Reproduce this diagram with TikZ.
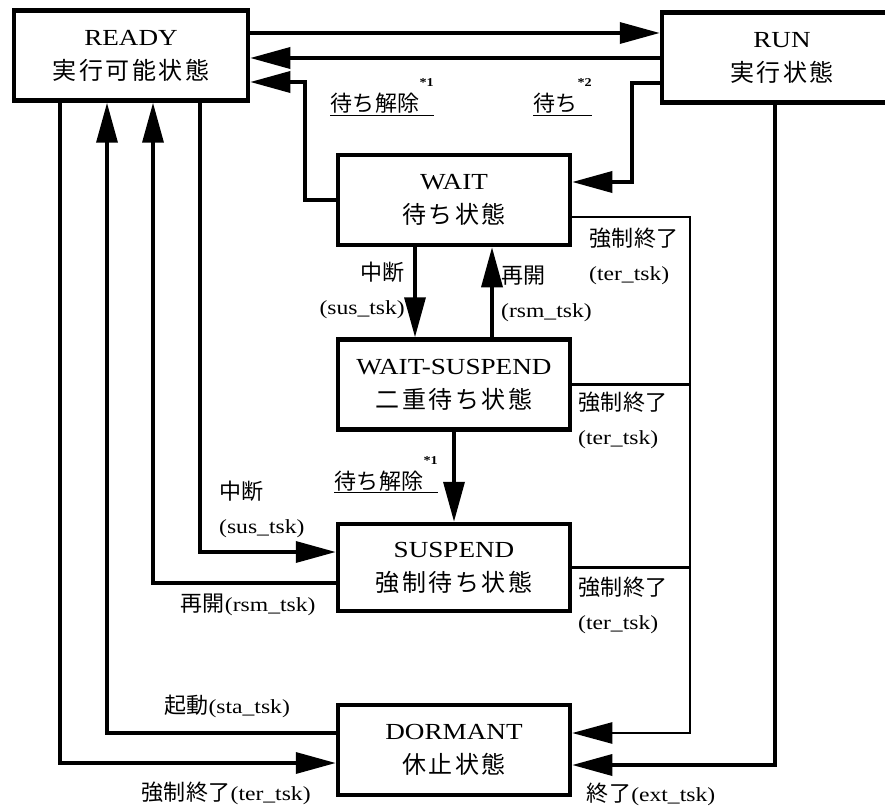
\documentclass[tikz,border=0pt]{standalone}
\usepackage{fontspec}
\setmainfont{Liberation Serif}[FakeStretch=1.18]
\newfontfamily\jpfont{Noto Sans CJK JP}[LetterSpace=2]
\newfontfamily\jpwidefont{Noto Sans CJK JP}[LetterSpace=11]
\newcommand{\jp}[1]{{\fontsize{22}{34}\jpfont #1}}
\newcommand{\jpbig}[1]{{\fontsize{24}{34}\jpwidefont #1}}
\newcommand{\starnote}[1]{\raisebox{25pt}{\fontsize{12}{12}\selectfont\bfseries #1}}
\usetikzlibrary{arrows.meta}

\begin{document}
\begin{tikzpicture}[x=1pt, y=-1pt,
  state/.style   ={draw=black, line width=4.5pt, minimum width=232pt,
                   minimum height=90pt, inner sep=0pt, align=center,
                   font=\fontsize{23}{34}\selectfont},
  lbl/.style     ={inner sep=0pt, align=left, font=\fontsize{20}{34}\selectfont},
  flow/.style    ={-{Triangle[length=40pt,width=21pt]}, line width=3.5pt},
  killflow/.style={-{Triangle[length=40pt,width=21pt]}, line width=2.5pt},
  kill/.style    ={line width=2.5pt},
]
\useasboundingbox (0,0) rectangle (885,810);

% states
\node[state, minimum width=234pt] (ready) at (131,55.5) {READY\\\jpbig{実行可能状態}};
\node[state, minimum width=240pt] (run)   at (782,57.5) {RUN\\\jpbig{実行状態}};
\node[state] (wait)  at (454,200)   {WAIT\\\jpbig{待ち状態}};
\node[state] (wsusp) at (454,384.5) {WAIT-SUSPEND\\\jpbig{二重待ち状態}};
\node[state, minimum height=87pt] (susp) at (454,567.5) {SUSPEND\\\jpbig{強制待ち状態}};
\node[state] (dorm)  at (454,750)   {DORMANT\\\jpbig{休止状態}};

% READY <-> RUN
\draw[flow] (ready.east |- 0,33) -- (run.west |- 0,33);
\draw[flow] (run.west |- 0,58) -- (ready.east |- 0,58);

% WAIT and WAIT-SUSPEND
\draw[flow] (wait.west) -- (305,200) |- (ready.east |- 0,82);
\draw[flow] (run.west |- 0,83) -- (632,83) |- (wait.east |- 0,182);
\draw[flow] (wait.south -| 415,0) -- (wsusp.north -| 415,0);
\draw[flow] (wsusp.north -| 492,0) -- (wait.south -| 492,0);
\draw[flow] (wsusp.south) -- (susp.north);

% forced termination
\draw[killflow] (wait.east |- 0,217) -- (690,217) |- (dorm.east |- 0,733);
\draw[kill] (wsusp.east) -- (690,384.5);
\draw[kill] (susp.east) -- (690,567.5);
\draw[flow] (run.south -| 775,0) |- (dorm.east |- 0,765);

% left side
\draw[flow] (ready.south -| 60,0) |- (dorm.west |- 0,763);
\draw[flow] (dorm.west |- 0,733) -| (ready.south -| 107,0);
\draw[flow] (susp.west |- 0,583) -| (ready.south -| 153,0);
\draw[flow] (ready.south -| 200,0) |- (susp.west |- 0,552);

% labels
\node[lbl, anchor=base west] (relw) at (330,112) {\underline{\jp{待ち解除}\starnote{*1}}};
\node[lbl, anchor=base west] (towait) at (533,112) {\underline{\jp{待ち}\starnote{*2}}};
\node[lbl, anchor=east, align=right] (susw) at (405,290) {\jp{中断}\\(sus\_tsk)};
\node[lbl, anchor=west] (rsmw) at (501,294) {\jp{再開}\\(rsm\_tsk)};
\node[lbl, anchor=west] (terw) at (589,256) {\jp{強制終了}\\(ter\_tsk)};
\node[lbl, anchor=west] (terws) at (578,420) {\jp{強制終了}\\(ter\_tsk)};
\node[lbl, anchor=west] (ters) at (578,605) {\jp{強制終了}\\(ter\_tsk)};
\node[lbl, anchor=base west] (relws) at (334,489) {\underline{\jp{待ち解除}\starnote{*1}}};
\node[lbl, anchor=west] (suss) at (219,509) {\jp{中断}\\(sus\_tsk)};
\node[lbl] (rsms) at (248,605) {\jp{再開}(rsm\_tsk)};
\node[lbl] (sta)  at (227,706) {\jp{起動}(sta\_tsk)};
\node[lbl] (terd) at (226,793) {\jp{強制終了}(ter\_tsk)};
\node[lbl] (ext)  at (651,794) {\jp{終了}(ext\_tsk)};

\end{tikzpicture}
\end{document}
